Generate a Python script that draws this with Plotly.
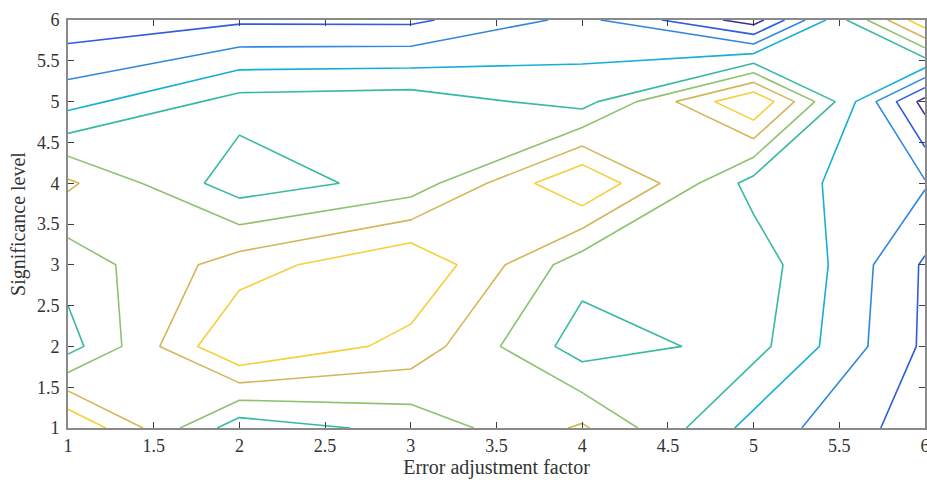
import plotly.graph_objects as go

# Grid (error adjustment factor, significance level)
x_vals = [1, 2, 3, 4, 5, 6]
y_vals = [1, 2, 3, 4, 5, 6]

# Surface values, one row per significance level (y = 1 ... 6)
z_y1 = [10.02, 5.40, 6.33, 8.15, 4.61, 2.44]
z_y2 = [5.58, 10.10, 8.64, 5.50, 6.36, 2.82]
z_y3 = [6.42, 8.50, 9.96, 6.40, 6.65, 2.86]
z_y4 = [8.18, 5.44, 6.40, 10.00, 5.60, 4.10]
z_y5 = [4.61, 6.39, 6.55, 5.60, 10.00, 1.60]
z_y6 = [2.35, 2.82, 2.79, 4.30, 1.50, 9.80]

# Contour levels and their line colours (parula-like)
level_start, level_end, level_step = 2, 9, 1
level_colors = ["#3e2f94", "#2c5ce0", "#2f88de", "#17afd6",
                "#38b9a2", "#8ec26f", "#d4b65a", "#f7cf3c"]

x_ticks = [1, 1.5, 2, 2.5, 3, 3.5, 4, 4.5, 5, 5.5, 6]
y_ticks = [1, 1.5, 2, 2.5, 3, 3.5, 4, 4.5, 5, 5.5, 6]
tick_text = ["1", "1.5", "2", "2.5", "3", "3.5", "4", "4.5", "5", "5.5", "6"]

z = [z_y1, z_y2, z_y3, z_y4, z_y5, z_y6]
n = len(level_colors)
colorscale = [[i / (n - 1), c] for i, c in enumerate(level_colors)]

fig = go.Figure(go.Contour(
    x=x_vals, y=y_vals, z=z,
    contours=dict(start=level_start, end=level_end, size=level_step,
                  coloring="lines", showlabels=False),
    colorscale=colorscale, showscale=False,
    line=dict(width=1.6, smoothing=0),
    hoverinfo="skip",
))

font_family = "Liberation Serif, Times New Roman, serif"
axis_common = dict(
    showline=True, linecolor="#8a8a8a", linewidth=2, mirror="ticks",
    ticks="inside", ticklen=6, tickwidth=1.2, tickcolor="#404040",
    showgrid=False, zeroline=False, ticklabeloverflow="allow",
    tickfont=dict(family=font_family, size=18, color="#333333"),
)

fig.update_layout(
    width=927, height=482,
    margin=dict(l=68, r=2, t=20, b=54, autoexpand=False),
    paper_bgcolor="white", plot_bgcolor="white",
    showlegend=False,
    xaxis=dict(range=[1, 6], tickvals=x_ticks, ticktext=tick_text,
               title=dict(text="Error adjustment factor", standoff=2,
                          font=dict(family=font_family, size=20, color="#333333")),
               automargin=False, **axis_common),
    yaxis=dict(range=[1, 6], tickvals=y_ticks, ticktext=tick_text,
               ticklabelstandoff=3,
               title=dict(text="Significance level", standoff=6,
                          font=dict(family=font_family, size=20, color="#333333")),
               automargin=False, **axis_common),
)

fig.write_html(
    "out.html",
    config={"displayModeBar": False},
    post_script="document.body.style.margin='0';document.body.style.overflow='hidden';",
)
